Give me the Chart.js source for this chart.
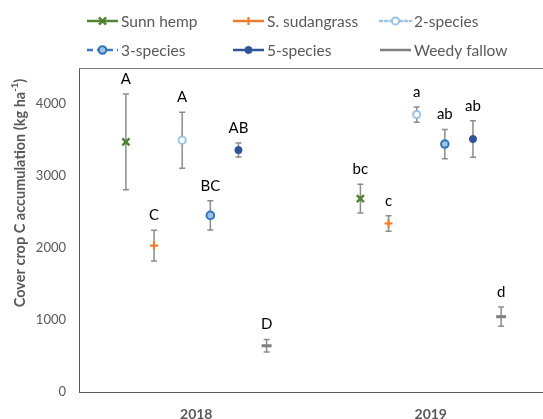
<!DOCTYPE html>
<html><head><meta charset="utf-8">
<script src="https://cdn.jsdelivr.net/npm/chart.js@4"></script>
<style>
html,body{margin:0;padding:0;background:#fff;overflow:hidden;width:543px;height:419px}
#wrap{width:560px;height:419px;position:relative}
</style></head>
<body><div id="wrap"><canvas id="c"></canvas></div>
<script>
// ---- data ----
const categories = ['2018', '2019'];
const seriesNames = ['Sunn hemp', 'S. sudangrass', '2-species', '3-species', '5-species', 'Weedy fallow'];
const sunnHemp = [3474, 2685];
const sunnHempErr = [666, 200];
const sunnHempLetters = ['A', 'bc'];
const sudangrass = [2033, 2340];
const sudangrassErr = [212, 108];
const sudangrassLetters = ['C', 'c'];
const twoSpecies = [3497, 3854];
const twoSpeciesErr = [390, 106];
const twoSpeciesLetters = ['A', 'a'];
const threeSpecies = [2453, 3444];
const threeSpeciesErr = [203, 203];
const threeSpeciesLetters = ['BC', 'ab'];
const fiveSpecies = [3360, 3513];
const fiveSpeciesErr = [97, 253];
const fiveSpeciesLetters = ['AB', 'ab'];
const weedyFallow = [642, 1046];
const weedyFallowErr = [88, 133];
const weedyFallowLetters = ['D', 'd'];
const yTicks = [0, 1000, 2000, 3000, 4000];
const yMax = 4500;

const seriesValues = [sunnHemp, sudangrass, twoSpecies, threeSpecies, fiveSpecies, weedyFallow];
const seriesErrs = [sunnHempErr, sudangrassErr, twoSpeciesErr, threeSpeciesErr, fiveSpeciesErr, weedyFallowErr];
const seriesLetters = [sunnHempLetters, sudangrassLetters, twoSpeciesLetters, threeSpeciesLetters, fiveSpeciesLetters, weedyFallowLetters];

// ---- styles ----
const styles = [
  {border:'#548235', bg:'#548235', pointStyle:'crossRot', radius:5, bw:2.5, line:'#548235', dash:[]},
  {border:'#ED7D31', bg:'#ED7D31', pointStyle:'cross', radius:4, bw:2.2, line:'#ED7D31', dash:[]},
  {border:'#9DC3E6', bg:'#FFFFFF', pointStyle:'circle', radius:3.6, bw:2, line:'#9DC3E6', dash:[2,3]},
  {border:'#2E75B6', bg:'#9DC3E6', pointStyle:'circle', radius:3.8, bw:2, line:'#4472C4', dash:[6,4]},
  {border:'#2F5597', bg:'#2F5597', pointStyle:'circle', radius:3.6, bw:1, line:'#2F5597', dash:[]},
  {border:'#7F7F7F', bg:'#7F7F7F', pointStyle:'line', radius:5, bw:3, line:'#7F7F7F', dash:[]}
];
const groupSpread = 0.12;
const FONT = 'Lato, "Open Sans", sans-serif';

const datasets = seriesNames.map((name, i) => ({
  label: name,
  data: categories.map((c, j) => ({x: j + 1 + (i - 2.5) * groupSpread, y: seriesValues[i][j]})),
  showLine: false,
  pointStyle: styles[i].pointStyle,
  pointRadius: styles[i].radius,
  pointBorderWidth: styles[i].bw,
  borderColor: styles[i].border,
  backgroundColor: styles[i].bg,
  pointBorderColor: styles[i].border,
  pointBackgroundColor: styles[i].bg
}));

const decorPlugin = {
  id: 'decor',
  beforeDatasetsDraw(chart) {
    const ctx = chart.ctx, xs = chart.scales.x, ys = chart.scales.y;
    ctx.save();
    ctx.strokeStyle = '#8C8C8C';
    ctx.lineWidth = 1.5;
    chart.data.datasets.forEach((ds, i) => {
      ds.data.forEach((p, j) => {
        const e = seriesErrs[i][j];
        const x = xs.getPixelForValue(p.x);
        const yt = ys.getPixelForValue(p.y + e), yb = ys.getPixelForValue(p.y - e);
        ctx.beginPath();
        ctx.moveTo(x, yt); ctx.lineTo(x, yb);
        ctx.moveTo(x - 3, yt); ctx.lineTo(x + 3, yt);
        ctx.moveTo(x - 3, yb); ctx.lineTo(x + 3, yb);
        ctx.stroke();
      });
    });
    ctx.restore();
  },
  afterDraw(chart) {
    const ctx = chart.ctx, xs = chart.scales.x, ys = chart.scales.y, a = chart.chartArea;
    ctx.save();
    // top border of plot area
    ctx.strokeStyle = '#7F7F7F'; ctx.lineWidth = 1;
    ctx.beginPath(); ctx.moveTo(a.left, a.top + 0.5); ctx.lineTo(a.right, a.top + 0.5); ctx.stroke();
    // letters
    ctx.fillStyle = '#000'; ctx.font = '15px ' + FONT;
    ctx.textAlign = 'center'; ctx.textBaseline = 'middle';
    chart.data.datasets.forEach((ds, i) => {
      ds.data.forEach((p, j) => {
        const x = xs.getPixelForValue(p.x);
        const yt = ys.getPixelForValue(p.y + seriesErrs[i][j]);
        ctx.fillText(seriesLetters[i][j], x, yt - 15);
      });
    });
    // y title with superscript
    ctx.save();
    ctx.translate(20, 193); ctx.rotate(-Math.PI / 2);
    ctx.fillStyle = '#595959'; ctx.textBaseline = 'middle'; ctx.textAlign = 'left';
    const mainF = 'bold 14.5px ' + FONT, supF = 'bold 9.5px ' + FONT;
    const t1 = 'Cover crop C accumulation (kg ha', t2 = '-1', t3 = ')';
    ctx.font = mainF; const w1 = ctx.measureText(t1).width, w3 = ctx.measureText(t3).width;
    ctx.font = supF; const w2 = ctx.measureText(t2).width;
    let sx = -(w1 + w2 + w3) / 2;
    ctx.font = mainF; ctx.fillText(t1, sx, 0); sx += w1;
    ctx.font = supF; ctx.fillText(t2, sx, -5); sx += w2;
    ctx.font = mainF; ctx.fillText(t3, sx, 0);
    ctx.restore();
    // legend
    const cols = [87, 233, 380], rows = [21, 50];
    ctx.font = '15.5px ' + FONT; ctx.textBaseline = 'middle'; ctx.textAlign = 'left';
    seriesNames.forEach((name, i) => {
      const lx = cols[i % 3], ly = rows[Math.floor(i / 3)], s = styles[i];
      ctx.save();
      ctx.strokeStyle = s.line; ctx.lineWidth = 2.5; ctx.setLineDash(s.dash); ctx.lineCap = s.dash.length && s.dash[0] < 3 ? 'round' : 'butt';
      ctx.beginPath(); ctx.moveTo(lx, ly); ctx.lineTo(lx + 31, ly); ctx.stroke();
      ctx.restore();
      if (s.pointStyle !== 'line') {
        ctx.save();
        ctx.strokeStyle = s.border; ctx.fillStyle = s.bg; ctx.lineWidth = s.bw;
        Chart.helpers.drawPoint(ctx, {pointStyle: s.pointStyle, radius: s.radius, rotation: 0, borderWidth: s.bw}, lx + 15.5, ly);
        ctx.restore();
      }
      ctx.fillStyle = '#595959';
      ctx.fillText(name, lx + 34, ly + 1);
    });
    ctx.restore();
  }
};

new Chart(document.getElementById('c'), {
  type: 'scatter',
  data: {datasets},
  options: {
    responsive: true, maintainAspectRatio: false, animation: false,
    layout: {padding: {left: 0, right: 12, top: 68, bottom: 0}, autoPadding: false},
    plugins: {legend: {display: false}, tooltip: {enabled: false}},
    scales: {
      x: {
        type: 'linear', min: 0.5, max: categories.length + 0.5,
        afterBuildTicks: s => { s.ticks = categories.map((c, j) => ({value: j + 1})); },
        ticks: {callback: v => categories[Math.round(v) - 1], font: {family: FONT, size: 14, weight: 'bold'}, color: '#595959', padding: 14, maxRotation: 0},
        grid: {display: false, drawTicks: false},
        border: {display: true, color: '#595959', width: 1},
        afterFit: s => { s.height = 27; }
      },
      y: {
        min: 0, max: yMax,
        afterBuildTicks: s => { s.ticks = yTicks.map(v => ({value: v})); },
        ticks: {callback: v => String(v), font: {family: FONT, size: 13}, color: '#595959', padding: 13},
        grid: {display: false, drawTicks: false},
        border: {display: true, color: '#595959', width: 1},
        afterFit: s => { s.width = 79; }
      }
    }
  },
  plugins: [decorPlugin]
});
</script>
</body></html>
